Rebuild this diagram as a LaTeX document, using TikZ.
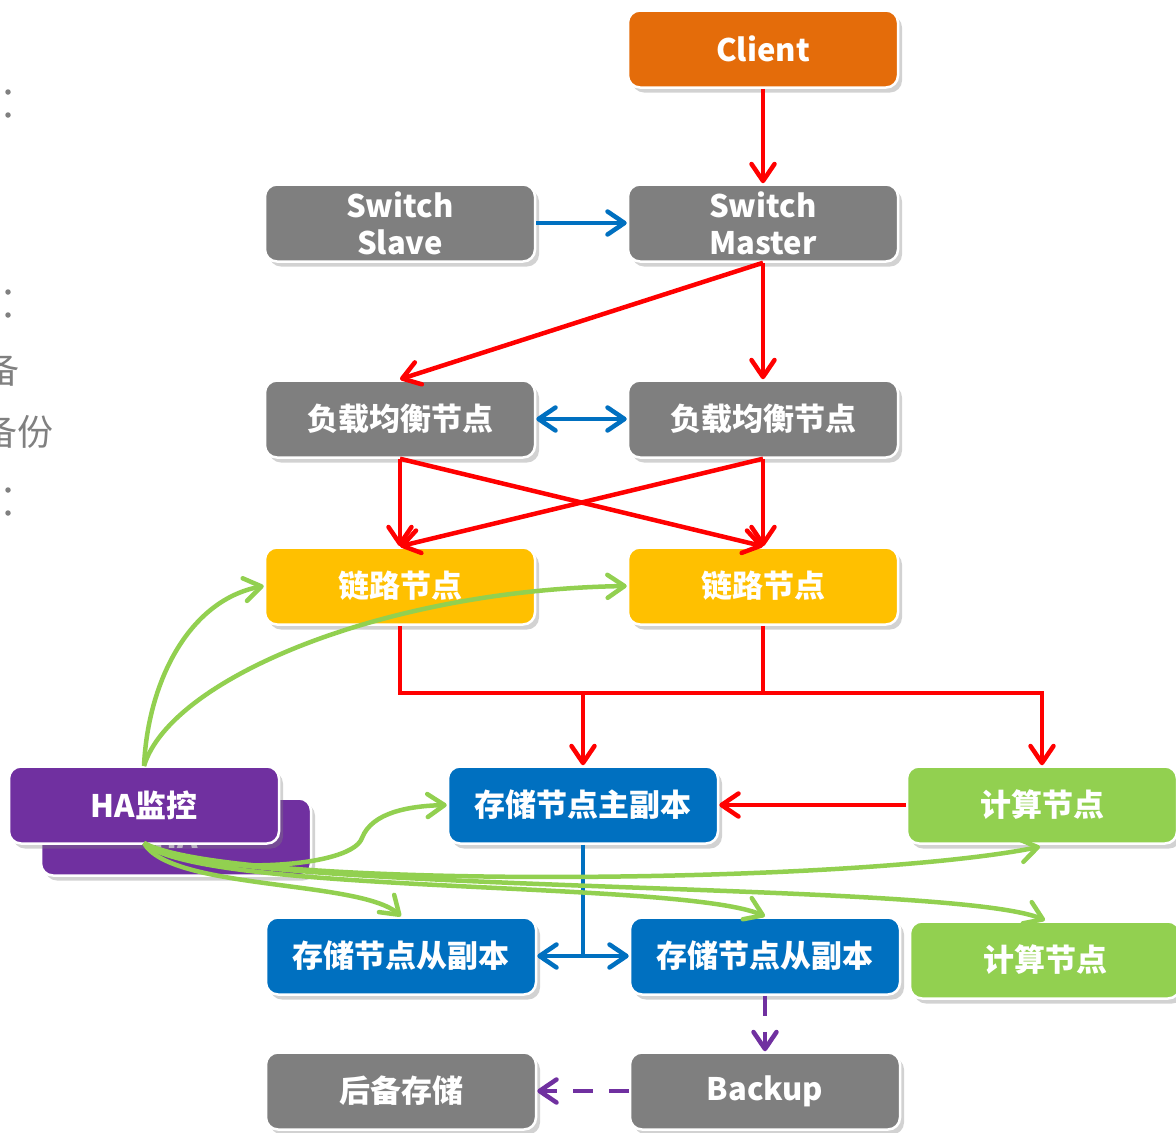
\documentclass[tikz,border=0pt]{standalone}
\usepackage{fontspec}
\setmainfont{Noto Sans CJK SC}
\usetikzlibrary{arrows.meta,shadows,calc}
\definecolor{cOrange}{HTML}{E46C0A}
\definecolor{cGray}{HTML}{7F7F7F}
\definecolor{cYellow}{HTML}{FFC000}
\definecolor{cBlue}{HTML}{0070C0}
\definecolor{cGreen}{HTML}{92D050}
\definecolor{cPurple}{HTML}{7030A0}
\definecolor{cRed}{HTML}{FF0000}
\definecolor{cSide}{HTML}{808080}
\begin{document}
\begin{tikzpicture}[x=1pt,y=-1pt,
  box/.style={rectangle, rounded corners=12pt, draw=white, line width=2.5pt,
    minimum width=270pt, minimum height=77pt, inner sep=0pt, text=white,
    font=\fontsize{31}{37}\selectfont\bfseries, align=center,
    drop shadow={shadow xshift=4pt, shadow yshift=-5pt, opacity=0.35}},
  >={Straight Barb[length=17pt,width=23pt,round]},
  redline/.style={draw=cRed, line width=4.5pt},
  redarr/.style={redline, ->},
  bluearr/.style={draw=cBlue, line width=4.5pt, ->},
  bluedbl/.style={draw=cBlue, line width=4.5pt, <->},
  blueline/.style={draw=cBlue, line width=4.5pt},
  purpdash/.style={draw=cPurple, line width=4.5pt, dash pattern=on 20pt off 16pt, ->},
  greenarr/.style={draw=cGreen, line width=4.5pt, ->},
  sidetext/.style={text=cSide, font=\fontsize{36}{40}\selectfont, inner sep=0pt, anchor=east},
  dot/.style={circle, fill=cSide, inner sep=0pt, minimum size=5.5pt}
]
\fill[white] (0,0) rectangle (1176,1133);
\useasboundingbox (0,0) rectangle (1176,1133);

% partial side text
\node[sidetext] (s1) at (20,370) {备};
\node[sidetext] (s2) at (54,432) {备份};
\node[dot] (d1) at (8,92) {};
\node[dot] (d2) at (8,115) {};
\node[dot] (d3) at (8,292) {};
\node[dot] (d4) at (8,315) {};
\node[dot] (d5) at (8,490) {};
\node[dot] (d6) at (8,513) {};

% nodes
\node[box, fill=cOrange] (client) at (763,49) {Client};
\node[box, fill=cGray] (sslave) at (400,223) {Switch\\Slave};
\node[box, fill=cGray] (smaster) at (763,223) {Switch\\Master};
\node[box, fill=cGray] (lbL) at (400,419) {负载均衡节点};
\node[box, fill=cGray] (lbR) at (763,419) {负载均衡节点};
\node[box, fill=cYellow] (lkL) at (400,586) {链路节点};
\node[box, fill=cYellow] (lkR) at (763,586) {链路节点};
\node[box, fill=cPurple, text=white!75!cPurple] (haback) at (176,837) {HA};
\node[box, fill=cPurple] (ha) at (144,805) {HA监控};
\node[box, fill=cBlue] (sm) at (583,805) {存储节点主副本};
\node[box, fill=cGreen] (calc1) at (1042,805) {计算节点};
\node[box, fill=cBlue] (ssL) at (401,956) {存储节点从副本};
\node[box, fill=cBlue] (ssR) at (765,956) {存储节点从副本};
\node[box, fill=cGreen] (calc2) at (1045,960) {计算节点};
\node[box, fill=cGray] (bk) at (401,1091) {后备存储};
\node[box, fill=cGray] (backup) at (765,1091) {Backup};

% connectors
\draw[redarr] (client) -- (smaster);
\draw[bluearr] (sslave) -- (smaster);
\draw[redarr] (smaster.south) -- (lbL.north);
\draw[redarr] (smaster) -- (lbR);
\draw[bluedbl] (lbL) -- (lbR);
\draw[redarr] (lbL.south) -- (lkL.north);
\draw[redarr] (lbL.south) -- (lkR.north);
\draw[redarr] (lbR.south) -- (lkR.north);
\draw[redarr] (lbR.south) -- (lkL.north);

\coordinate (bus) at (583,693);
\draw[redarr, line join=miter] (lkL.south) |- (bus -| calc1) -- (calc1.north);
\draw[redline] (lkR.south) -- (lkR.south |- bus);
\draw[redarr] (bus) -- (sm.north);
\draw[redarr] (calc1.west) -- (sm.east);

\coordinate (bj) at (583,956);
\draw[blueline] (sm.south) -- (bj);
\draw[bluearr] (bj) -- (ssL.east);
\draw[bluearr] (bj) -- (ssR.west);

\draw[purpdash] (ssR.south) -- (backup.north);
\draw[purpdash] (backup.west) -- (bk.east);

% green HA curves
\coordinate (hat) at (144,766);
\coordinate (hab) at (144,843);
\coordinate (mid) at (362,838);
\draw[greenarr] (hat) .. controls (148,680) and (190,600) .. (lkL.west);
\draw[greenarr] (hat) .. controls (170,680) and (380,590) .. (lkR.west);
\draw[greenarr] (hab) .. controls (180,875) and (350,872) .. (mid) .. controls (372,812) and (410,806) .. (sm.west);
\draw[greenarr] (hab) .. controls (230,890) and (850,885) .. ($(calc1.south)+(-2,2)$);
\draw[greenarr] (hab) .. controls (170,890) and (360,880) .. (ssL.north);
\draw[greenarr] (hab) .. controls (200,895) and (680,880) .. (ssR.north);
\draw[greenarr] (hab) .. controls (220,895) and (950,880) .. (calc2.north);
\end{tikzpicture}
\end{document}
